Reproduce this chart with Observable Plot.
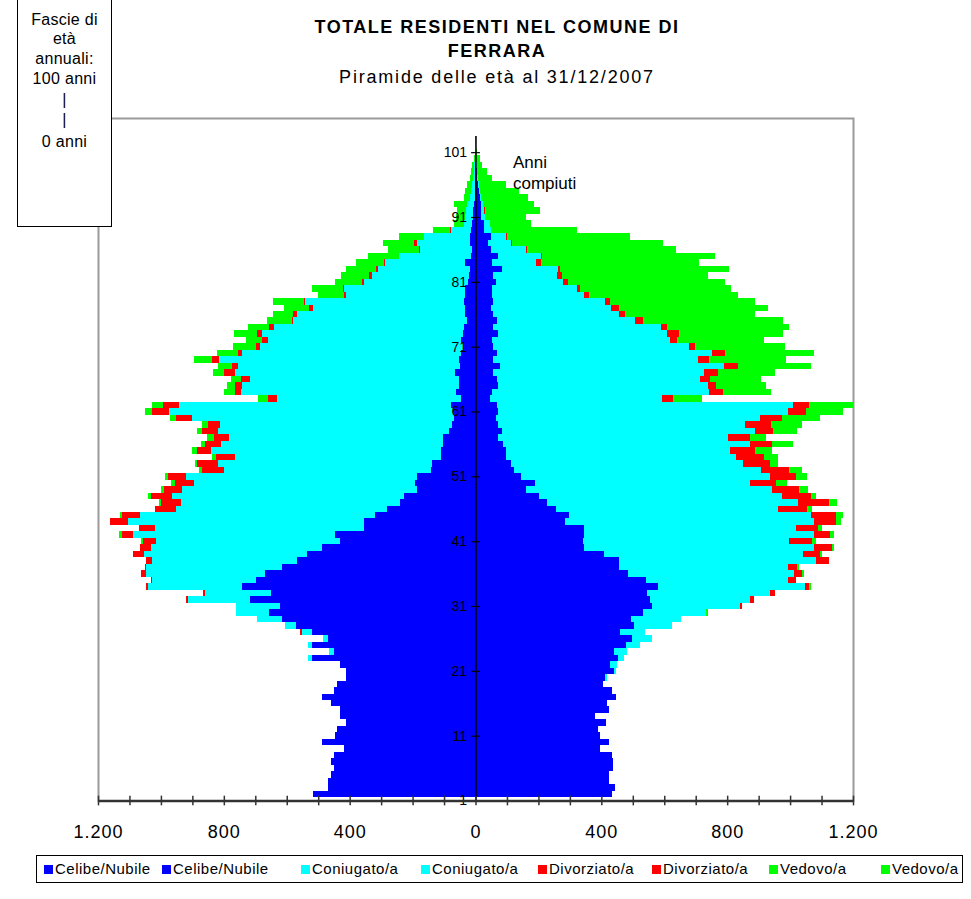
<!DOCTYPE html>
<html>
<head>
<meta charset="utf-8">
<script src="https://cdn.jsdelivr.net/npm/d3@7"></script>
<script src="https://cdn.jsdelivr.net/npm/@observablehq/plot@0.6"></script>
<style>
  body { margin: 0; background: #fff; font-family: "Liberation Sans", Arial, sans-serif; color: #000; }
  #wrap { position: relative; width: 971px; height: 899px; overflow: hidden; }
  #chart { position: absolute; left: 0; top: 0; }
  .title { position: absolute; left: 197px; width: 600px; text-align: center; font-size: 18px; line-height: 20px; }
  .bold { font-weight: bold; letter-spacing: 1.5px; }
  .sub { letter-spacing: 1.8px; }
  #box { position: absolute; left: 17px; top: -1px; width: 93px; height: 226px; border: 1px solid #000; background: #fff;
         font-size: 16px; letter-spacing: 0.3px; text-align: center; }
  #box div { position: absolute; left: 0; width: 93px; line-height: 20px; }
  #anni { position: absolute; left: 513px; top: 152px; font-size: 17px; line-height: 21px; }
  #legend { position: absolute; left: 36px; top: 855px; width: 925px; height: 26px; border: 1px solid #000; background: #fff; }
  .sw { position: absolute; top: 9px; width: 9px; height: 9px; }
  .lt { position: absolute; top: 4px; font-size: 15px; line-height: 18px; letter-spacing: 0.5px; white-space: nowrap; }
</style>
</head>
<body>
<div id="wrap">
  <div id="chart"></div>
  <div class="title bold" style="top:17px">TOTALE RESIDENTI NEL COMUNE DI</div>
  <div class="title bold" style="top:41px">FERRARA</div>
  <div class="title sub" style="top:67px">Piramide delle età al 31/12/2007</div>
  <div id="box"></div>
  <div id="anni">Anni<br>compiuti</div>
  <div id="legend"></div>
</div>
<script>
// ---- categories ----
const ages = [
  0,1,2,3,4,5,6,7,8,9,10,11,12,13,14,15,16,17,18,19,20,21,22,23,24,25,26,27,28,29,
  30,31,32,33,34,35,36,37,38,39,40,41,42,43,44,45,46,47,48,49,50,51,52,53,54,55,56,57,58,59,
  60,61,62,63,64,65,66,67,68,69,70,71,72,73,74,75,76,77,78,79,80,81,82,83,84,85,86,87,88,89,
  90,91,92,93,94,95,96,97,98,99,100,101
];
const statuses = ["Celibe/Nubile", "Coniugato/a", "Divorziato/a", "Vedovo/a"];
const statusColors = ["#0000ff", "#00ffff", "#ff0000", "#00ff00"];

// ---- males (left side), by age 0..101 ----
const maleCelibe = [
  516,468,468,460,451,460,449,418,487,448,441,413,431,431,460,487,449,441,413,413,
  431,519,451,519,468,521,572,616,658,623,716,651,743,697,669,616,568,537,489,431,
  447,354,354,320,281,239,227,185,193,185,141,137,109,109,104,104,85,75,67,72,
  79,45,61,51,51,64,49,51,45,40,45,40,35,28,32,32,35,32,32,24,
  20,19,32,14,12,19,16,14,10,8,7,6,3,3,2,2,1,1,1,0,0,0
];
const maleConiugato = [
  0,0,0,0,0,0,0,0,0,0,0,0,0,0,0,0,0,0,0,0,
  0,15,14,15,17,32,33,78,103,138,197,209,298,331,378,431,460,518,541,584,
  641,664,750,745,670,697,738,748,701,734,658,682,655,731,704,679,734,737,834,901,
  862,586,684,692,665,700,705,764,697,645,614,638,605,552,535,485,507,380,386,331,
  310,292,256,230,163,168,149,65,25,25,24,22,16,12,10,7,5,3,2,1,1,0
];
const maleDivorziato = [
  0,0,0,0,0,0,0,0,0,0,0,0,0,0,0,0,0,0,0,0,
  0,0,0,0,0,4,0,0,0,0,6,6,6,5,15,5,19,35,35,42,
  37,52,59,58,67,63,66,58,60,60,71,66,61,44,51,47,49,37,50,54,
  52,28,19,21,29,35,19,22,12,12,19,16,16,3,13,12,3,6,4,6,
  9,6,2,0,5,10,0,3,1,0,0,0,0,0,0,0,0,0,0,0,0,0
];
const maleVedovo = [
  0,0,0,0,0,0,0,0,0,0,0,0,0,0,0,0,0,0,0,0,
  0,0,0,0,0,0,0,0,0,0,0,0,0,0,0,0,0,0,0,5,
  7,0,0,6,0,6,11,8,13,7,10,6,12,16,13,23,16,19,19,25,
  34,32,35,25,32,35,45,57,67,73,51,73,67,80,64,80,99,83,98,86,
  89,95,90,98,99,98,79,54,31,30,28,39,19,17,14,10,7,6,3,2,2,1
];

// ---- females (right side), by age 0..101 ----
const femNubile = [
  434,442,423,423,436,436,433,395,423,395,388,414,380,423,417,446,433,404,412,440,
  427,453,440,479,498,459,504,494,533,561,555,545,581,542,485,456,456,408,345,341,
  345,345,284,297,255,226,201,160,188,144,121,112,96,96,86,73,83,73,64,73,
  67,45,54,73,67,57,77,57,67,57,54,73,57,67,57,48,57,54,54,64,
  57,83,54,73,48,41,48,26,26,16,16,19,13,10,8,5,4,3,2,1,0,0
];
const femConiugata = [
  0,0,0,0,0,0,0,0,0,0,0,0,0,0,0,0,0,0,5,6,
  22,19,42,44,63,80,121,160,201,281,319,390,465,450,529,536,625,632,730,657,
  730,673,791,768,708,798,772,784,686,791,788,737,733,714,785,731,804,785,839,919,
  941,548,689,667,648,670,714,651,686,622,565,536,533,440,399,383,355,291,268,214,
  201,179,137,134,112,71,48,22,19,13,10,4,6,5,3,3,2,1,0,0,0,0
];
const femDivorziata = [
  0,0,0,0,0,0,0,0,0,0,0,0,0,0,0,0,0,0,0,0,
  0,0,0,0,0,0,0,0,0,6,10,16,13,26,23,29,42,54,57,71,
  51,70,70,80,90,99,92,83,80,83,86,86,87,80,73,70,60,80,70,58,
  51,35,45,26,31,45,42,35,41,20,22,39,19,26,19,25,15,15,10,15,
  16,6,16,4,3,3,3,2,0,0,3,0,0,0,0,0,0,0,0,0,0,0
];
const femVedova = [
  0,0,0,0,0,0,0,0,0,0,0,0,0,0,0,0,0,0,0,0,
  0,0,0,0,0,0,0,0,6,0,0,0,6,0,6,6,0,7,7,12,
  13,13,16,23,16,25,16,29,35,35,42,25,44,54,64,48,74,99,121,118,
  140,93,150,159,160,179,232,243,281,284,275,331,389,443,415,475,463,476,481,501,
  466,539,504,551,475,482,392,272,130,131,175,162,147,122,85,43,29,16,11,5,3,3
];

// ---- axis tick labels ----
const xTickValues = [-1200,-1100,-1000,-900,-800,-700,-600,-500,-400,-300,-200,-100,0,100,200,300,400,500,600,700,800,900,1000,1100,1200];
const xLabelValues = [-1200, -800, -400, 0, 400, 800, 1200];
const xLabels = ["1.200", "800", "400", "0", "400", "800", "1.200"];
const yTickLabels = ["1","11","21","31","41","51","61","71","81","91","101"];
const boxLines = ["Fascie di", "età", "annuali:", "100 anni", "|", "|", "0 anni"];

// ---- build the long table Plot needs ----
const maleSeries = [maleCelibe, maleConiugato, maleDivorziato, maleVedovo];
const femSeries = [femNubile, femConiugata, femDivorziata, femVedova];
const rows = [];
ages.forEach((a, i) => {
  statuses.forEach((s, k) => {
    rows.push({age: a, top: a + 1, status: s, value: -maleSeries[k][i]});
    rows.push({age: a, top: a + 1, status: s, value: femSeries[k][i]});
  });
});
// label "1" sits half a category below the first bar, then every 10
const yTickPos = yTickLabels.map(l => +l - 1.5);
const barTop = ages.length;

const chart = Plot.plot({
  width: 971,
  height: 860,
  marginLeft: 98,
  marginRight: 118,
  marginTop: 118,
  marginBottom: 59.5,
  x: {domain: [-1200, 1200], axis: null},
  y: {domain: [-0.5, 104.77], axis: null},
  color: {domain: statuses, range: statusColors},
  style: {fontFamily: "'Liberation Sans', Arial, sans-serif", color: "#000", background: "transparent"},
  marks: [
    Plot.frame({stroke: "#9a9a9a", strokeWidth: 2}),
    Plot.rectX(rows, Plot.stackX({
      y1: "age", y2: "top", x: "value", fill: "status", order: statuses,
      shapeRendering: "crispEdges"
    })),
    Plot.ruleX([0], {y1: -0.5, y2: barTop, stroke: "#000", strokeWidth: 1.5}),
    Plot.ruleY(yTickPos, {y: d => d, x1: -14, x2: 14, stroke: "#000", strokeWidth: 1.2}),
    Plot.text(yTickPos, {y: d => d, x: 0, text: (d, i) => yTickLabels[i], dx: -9, textAnchor: "end", fontSize: 14, fill: "#000"}),
    Plot.ruleY([-0.5], {stroke: "#333", strokeWidth: 2.5}),
    Plot.ruleX(xTickValues, {x: d => d, y1: -1.25, y2: 0.25, stroke: "#333", strokeWidth: 1.5}),
    Plot.axisX({ticks: xLabelValues, tickSize: 0, tickPadding: 24, fontSize: 18, label: null,
      tickFormat: d => xLabels[xLabelValues.indexOf(d)], fill: "#000"})
  ]
});
chart.querySelectorAll("g[aria-label='x-axis tick label'] text").forEach(t => t.setAttribute("letter-spacing", "1px"));
document.getElementById("chart").appendChild(chart);

// ---- the little box and the legend ----
const box = document.getElementById("box");
const boxTops = [10, 29, 49, 69, 90, 110, 132];
boxLines.forEach((t, i) => {
  const d = document.createElement("div");
  d.textContent = t;
  d.style.top = boxTops[i] + "px";
  box.appendChild(d);
});

const legend = document.getElementById("legend");
const legendItems = [
  statuses[0], statuses[0], statuses[1], statuses[1],
  statuses[2], statuses[2], statuses[3], statuses[3]
];
const swX = [7, 125, 264, 384, 501, 615, 732, 844];
legendItems.forEach((name, i) => {
  const sw = document.createElement("div");
  sw.className = "sw";
  sw.style.left = swX[i] + "px";
  sw.style.background = statusColors[statuses.indexOf(name)];
  legend.appendChild(sw);
  const t = document.createElement("div");
  t.className = "lt";
  t.style.left = (swX[i] + 11) + "px";
  t.textContent = name;
  legend.appendChild(t);
});
</script>
</body>
</html>
